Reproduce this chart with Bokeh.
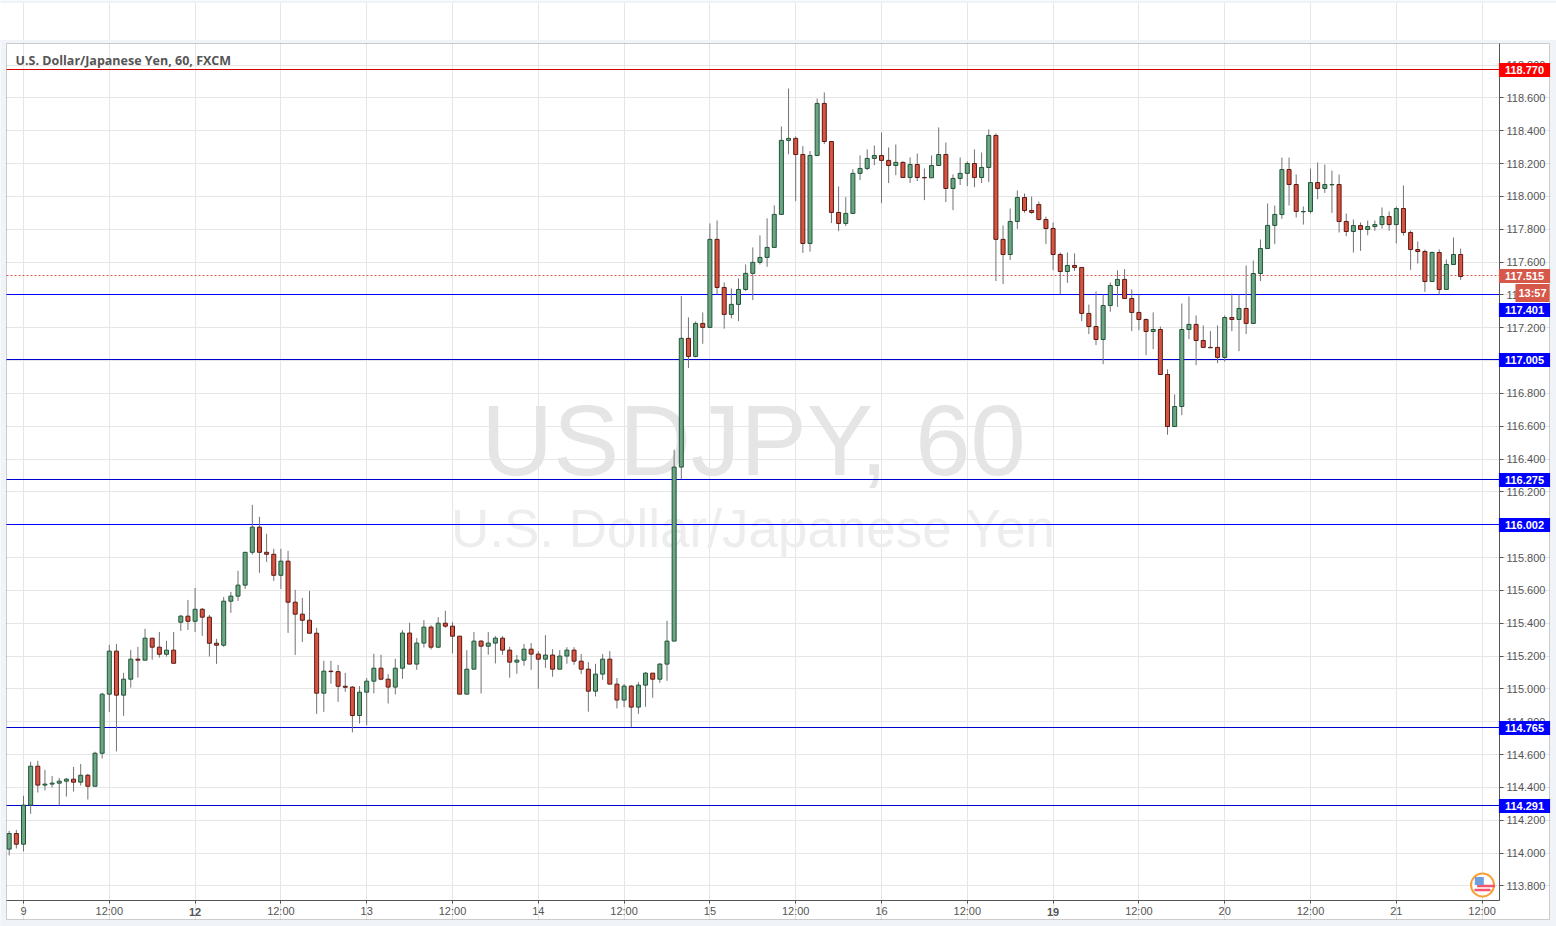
import math
from bokeh.plotting import figure
from bokeh.embed import file_html
from bokeh.resources import INLINE
from bokeh.models import Range1d, FixedTicker, NumeralTickFormatter, Label, BoxAnnotation

opens = [
114.024,114.119,114.054,114.292,114.529,114.414,114.420,114.426,114.438,114.450,
114.432,114.474,114.407,114.608,114.968,115.230,114.962,115.059,115.181,115.175,
115.309,115.254,115.211,115.236,115.406,115.443,115.412,115.485,115.437,115.278,
115.266,115.534,115.565,115.632,115.832,115.985,115.832,115.820,115.692,115.778,
115.528,115.455,115.418,115.339,114.974,115.108,115.105,115.016,115.011,114.838,
114.980,115.047,115.126,115.059,115.011,115.126,115.340,115.151,115.279,115.376,
115.254,115.400,115.382,115.321,114.968,115.120,115.291,115.260,115.279,115.309,
115.236,115.163,115.175,115.242,115.212,115.181,115.206,115.120,115.200,115.236,
115.169,115.120,114.986,115.090,115.181,115.029,114.932,115.017,114.889,115.023,
115.096,115.059,115.151,115.291,116.351,117.135,117.025,117.226,117.202,117.738,
117.445,117.281,117.342,117.433,117.531,117.598,117.628,117.689,117.890,118.341,
118.353,118.255,117.713,118.249,118.566,118.334,117.902,117.835,117.896,118.140,
118.170,118.231,118.249,118.219,118.188,118.207,118.115,118.194,118.115,118.113,
118.188,118.255,118.048,118.109,118.140,118.200,118.115,118.176,118.371,117.738,
117.646,117.847,117.993,117.914,117.950,117.859,117.804,117.646,117.542,117.579,
117.567,117.287,117.207,117.128,117.335,117.457,117.494,117.378,117.293,117.250,
117.177,117.189,116.915,116.598,116.720,117.189,117.220,117.122,117.080,117.080,
117.019,117.262,117.250,117.317,117.226,117.530,117.682,117.823,117.889,118.163,
118.072,117.906,117.908,118.084,118.048,118.070,118.072,117.847,117.786,117.822,
117.798,117.816,117.828,117.877,117.828,117.926,117.780,117.676,117.664,117.481,
117.658,117.433,117.585,117.646]

highs = [
114.135,114.141,114.349,114.556,114.562,114.507,114.470,114.458,114.458,114.525,
114.543,114.483,114.617,114.976,115.268,115.274,115.098,115.238,115.256,115.366,
115.309,115.347,115.293,115.347,115.451,115.542,115.615,115.493,115.451,115.305,
115.560,115.591,115.719,115.832,116.121,116.048,115.944,115.853,115.853,115.841,
115.603,115.554,115.597,115.372,115.171,115.171,115.146,115.098,115.017,115.017,
115.066,115.214,115.208,115.090,115.183,115.358,115.403,115.309,115.419,115.388,
115.437,115.476,115.407,115.321,115.236,115.346,115.297,115.346,115.321,115.321,
115.256,115.206,115.273,115.279,115.230,115.327,115.242,115.236,115.254,115.254,
115.212,115.163,115.153,115.212,115.230,115.066,115.029,115.023,115.041,115.102,
115.096,115.157,115.415,116.456,117.393,117.263,117.238,117.293,117.835,117.853,
117.476,117.439,117.500,117.585,117.689,117.762,117.866,117.945,118.426,118.657,
118.365,118.306,118.276,118.596,118.633,118.334,118.060,117.995,118.166,118.249,
118.286,118.310,118.389,118.298,118.316,118.213,118.237,118.261,118.170,118.249,
118.420,118.328,118.134,118.237,118.213,118.286,118.267,118.408,118.383,117.823,
117.926,118.036,118.017,117.999,117.969,117.877,117.841,117.658,117.658,117.652,
117.567,117.341,117.421,117.402,117.475,117.550,117.557,117.433,117.402,117.256,
117.293,117.207,116.946,116.793,117.347,117.390,117.274,117.214,117.179,117.214,
117.274,117.408,117.402,117.579,117.609,117.737,117.956,117.944,118.236,118.236,
118.133,117.938,118.169,118.206,118.194,118.157,118.133,117.895,117.859,117.841,
117.853,117.853,117.932,117.908,117.938,118.066,117.792,117.725,117.676,117.664,
117.676,117.615,117.749,117.682]

lows = [
113.985,114.028,114.010,114.239,114.369,114.381,114.399,114.290,114.344,114.375,
114.411,114.326,114.407,114.576,114.860,114.619,114.836,115.008,115.069,115.175,
115.177,115.191,115.197,115.156,115.353,115.359,115.347,115.323,115.197,115.152,
115.256,115.463,115.536,115.609,115.818,115.707,115.774,115.658,115.609,115.341,
115.207,115.286,115.339,114.848,114.860,115.031,114.921,114.982,114.735,114.789,
114.777,114.972,115.053,114.911,114.966,115.061,115.151,115.116,115.252,115.240,
115.248,115.372,115.216,114.968,114.968,115.120,114.972,115.208,115.155,115.208,
115.068,115.092,115.141,115.116,115.001,115.128,115.074,115.120,115.153,115.147,
115.090,114.861,114.954,115.055,115.029,114.881,114.889,114.767,114.848,114.891,
114.946,115.037,115.049,115.291,116.277,116.954,117.019,117.102,117.202,117.403,
117.194,117.257,117.240,117.423,117.368,117.585,117.571,117.689,117.890,118.257,
117.971,117.656,117.663,118.249,118.318,117.837,117.788,117.819,117.896,118.099,
118.160,118.190,117.959,118.081,118.129,118.115,118.081,118.093,117.977,118.113,
118.188,117.965,117.916,118.069,118.062,118.056,118.081,118.087,117.484,117.466,
117.612,117.802,117.900,117.894,117.853,117.709,117.550,117.402,117.473,117.546,
117.240,117.161,117.094,116.978,117.297,117.327,117.378,117.179,117.185,117.033,
117.069,116.915,116.548,116.598,116.667,117.130,116.972,117.080,117.078,116.984,
116.994,117.179,117.057,117.161,117.226,117.484,117.682,117.709,117.863,117.944,
117.871,117.828,117.895,117.983,118.021,117.899,117.780,117.757,117.658,117.668,
117.763,117.790,117.804,117.790,117.713,117.761,117.552,117.591,117.418,117.481,
117.402,117.433,117.585,117.491]

closes = [
114.119,114.054,114.292,114.529,114.414,114.420,114.426,114.438,114.450,114.432,
114.474,114.407,114.608,114.968,115.230,114.962,115.059,115.181,115.175,115.309,
115.254,115.211,115.236,115.156,115.443,115.412,115.485,115.437,115.278,115.266,
115.534,115.565,115.632,115.832,115.985,115.832,115.820,115.692,115.778,115.528,
115.455,115.418,115.339,114.974,115.108,115.105,115.016,115.010,114.838,114.980,
115.047,115.126,115.059,115.011,115.126,115.340,115.151,115.279,115.376,115.254,
115.400,115.382,115.321,114.968,115.120,115.291,115.260,115.279,115.309,115.236,
115.163,115.175,115.242,115.212,115.181,115.206,115.120,115.200,115.236,115.169,
115.120,114.986,115.090,115.181,115.029,114.932,115.017,114.889,115.023,115.096,
115.059,115.151,115.291,116.351,117.135,117.025,117.226,117.202,117.738,117.445,
117.281,117.342,117.433,117.531,117.598,117.628,117.689,117.890,118.341,118.353,
118.255,117.713,118.249,118.566,118.334,117.902,117.835,117.896,118.140,118.170,
118.231,118.249,118.219,118.188,118.207,118.115,118.194,118.115,118.113,118.188,
118.255,118.048,118.109,118.140,118.200,118.115,118.176,118.371,117.738,117.646,
117.847,117.993,117.914,117.902,117.859,117.804,117.646,117.542,117.579,117.567,
117.287,117.207,117.128,117.335,117.457,117.494,117.378,117.293,117.250,117.177,
117.189,116.915,116.598,116.720,117.189,117.220,117.122,117.080,117.078,117.019,
117.262,117.250,117.317,117.226,117.530,117.682,117.823,117.890,118.163,118.072,
117.908,117.908,118.084,118.048,118.072,118.072,117.847,117.786,117.822,117.798,
117.816,117.828,117.877,117.828,117.926,117.780,117.676,117.664,117.481,117.658,
117.433,117.585,117.646,117.512]

y_ticks = [113.8,114.0,114.2,114.4,114.6,114.8,115.0,115.2,115.4,115.6,115.8,116.0,116.2,
           116.4,116.6,116.8,117.0,117.2,117.4,117.6,117.8,118.0,118.2,118.4,118.6,118.8]
x_ticks = [0,12,24,36,48,60,72,84,96,108,120,132,144,156,168,180,192,204]
x_labels = ["9","12:00","12","12:00","13","12:00","14","12:00","15","12:00","16","12:00","19","12:00","20","12:00","21","12:00"]
bold_days = ["12","19"]
levels = [(118.770,"#d40000","#ff0000"),(117.401,"#0000ff","#0000ff"),(117.005,"#0000d0","#0000ff"),
          (116.275,"#0000d0","#0000ff"),(116.002,"#0000ff","#0000ff"),(114.765,"#0000d0","#0000ff"),
          (114.291,"#0000d0","#0000ff")]
last_price = 117.515
countdown = "13:57"
title_text = "U.S. Dollar/Japanese Yen, 60, FXCM"
mark_big = "USDJPY, 60"
mark_small = "U.S. Dollar/Japanese Yen"

PALE = "#f0f4f8"; FRAME = "#555555"; GRID = "#e6e6e6"; TXT = "#555555"
UP, UPL = "#6ba583", "#225437"
DN, DNL = "#d75442", "#5b1a13"
WICK = "#737375"; TAG = "#d6584a"
W, H = 1556, 926
BAR = 7.15; X0 = 23.0
FL, FR, FT, FB = 6, 1499, 43, 900
Y_TOP = 118.931
SC = 5.226 / 858                     # price per pixel

def cy(v):                            # canvas row of a price
    return FT + (Y_TOP - v) / SC

def cx(i):                            # canvas column of a bar index
    return X0 + i * BAR

def py(px):                           # price of a canvas row
    return Y_TOP - (px - FT) * SC

def ix(px):                           # bar index of a canvas column
    return (px - X0) / BAR

def row(v):                           # whole pixel row holding this price
    return math.floor(cy(v) + 0.4)

# the frame fills the page, so that tags and surround, which annotations clip to the frame, can show
p = figure(width=W, height=H, output_backend="svg", toolbar_location=None,
           x_range=Range1d(ix(0), ix(W)), y_range=Range1d(py(H), py(0)),
           y_axis_location="right", min_border_left=0, min_border_right=0,
           min_border_top=0, min_border_bottom=0,
           border_fill_color="white", background_fill_color="white", outline_line_color=None)

def box(l, r, t, b, **kw):
    p.add_layout(BoxAnnotation(left=l, right=r, top=t, bottom=b, left_units="canvas", right_units="canvas",
                               top_units="canvas", bottom_units="canvas", level="underlay", **kw))

box(-1, W, -1, 2.5, fill_color=PALE, fill_alpha=1, line_alpha=0)
box(-1, W, 39.5, 42.5, fill_color=PALE, fill_alpha=1, line_alpha=0)
box(-1, FL - 0.5, 39.5, H, fill_color=PALE, fill_alpha=1, line_alpha=0)
box(1549.5, W, 39.5, H, fill_color=PALE, fill_alpha=1, line_alpha=0)
box(-1, W, 919.5, H, fill_color=PALE, fill_alpha=1, line_alpha=0)
box(FL, 1549, FT, 919, fill_alpha=0, line_color=FRAME, line_width=1)

ya = p.yaxis[0]
ya.fixed_location = ix(FR)
ya.bounds = (py(FB), py(FT))
ya.ticker = FixedTicker(ticks=y_ticks)
ya.formatter = NumeralTickFormatter(format="0.000")
ya.major_tick_in = 0; ya.major_tick_out = 4; ya.minor_tick_out = 0; ya.minor_tick_in = 0
ya.axis_line_color = FRAME; ya.major_tick_line_color = FRAME
ya.major_label_text_color = TXT; ya.major_label_text_font = "Liberation Sans"
ya.major_label_text_font_size = "11px"; ya.major_label_standoff = 3

xa = p.xaxis[0]
xa.fixed_location = py(FB)
xa.bounds = (ix(FL), ix(FR))
xa.ticker = FixedTicker(ticks=x_ticks)
xa.major_label_overrides = {t: ("" if s in bold_days else s) for t, s in zip(x_ticks, x_labels)}
xa.major_tick_in = 0; xa.major_tick_out = 3; xa.minor_tick_out = 0; xa.minor_tick_in = 0
xa.axis_line_color = FRAME; xa.major_tick_line_color = FRAME
xa.major_label_text_color = TXT; xa.major_label_text_font = "Liberation Sans"
xa.major_label_text_font_size = "11px"; xa.major_label_standoff = 1

for t, s in zip(x_ticks, x_labels):
    if s in bold_days:
        p.add_layout(Label(x=cx(t), y=911, x_units="canvas", y_units="canvas", text=s, text_align="center",
                           text_baseline="middle", text_font="Liberation Sans", text_font_style="bold",
                           text_font_size="11px", text_color=TXT))

p.xgrid.grid_line_color = GRID; p.ygrid.grid_line_color = GRID
p.xgrid.ticker = xa.ticker; p.ygrid.ticker = ya.ticker
p.xgrid.bounds = (py(FB), py(FT)); p.ygrid.bounds = (ix(FL), ix(FR))

# watermarks
p.add_layout(Label(x=753, y=440, x_units="canvas", y_units="canvas", text=mark_big, text_align="center",
                   text_baseline="middle", text_font="Liberation Sans", text_font_size="99.3px",
                   text_color="#e5e5e5", level="underlay"))
p.add_layout(Label(x=753, y=528, x_units="canvas", y_units="canvas", text=mark_small, text_align="center",
                   text_baseline="middle", text_font="Liberation Sans", text_font_size="53px",
                   text_color="#ededed", level="underlay"))

# horizontal levels
for v, c, _ in levels:
    p.segment([ix(FL)], [py(row(v))], [ix(FR)], [py(row(v))], line_color=c, line_width=1)
p.segment([ix(FL)], [py(row(last_price))], [ix(FR)], [py(row(last_price))], line_color=TAG, line_width=1, line_dash="2 2")

# candles
n = len(opens)
xs = [i - 2 for i in range(n)]
fills = [UP if c >= o else DN for o, c in zip(opens, closes)]
edges = [UPL if c >= o else DNL for o, c in zip(opens, closes)]
p.segment(xs, highs, xs, lows, line_color=WICK, line_width=1)
p.vbar(x=xs, top=[max(o, c) for o, c in zip(opens, closes)], bottom=[min(o, c) for o, c in zip(opens, closes)],
       width=4.0 / BAR, fill_color=fills, line_color=edges, line_width=1)

# price tags
def tag(v, text, color, off=0, x=1524, pad=(6, 3)):
    p.add_layout(Label(x=x, y=row(v) + 0.5 + off, x_units="canvas", y_units="canvas", text=text,
                       text_align="center", text_baseline="middle", text_font="Liberation Sans",
                       text_font_style="bold", text_font_size="11px", text_color="white",
                       background_fill_color=color, background_fill_alpha=1, padding=pad))

tag(last_price, f"{last_price:.3f}", TAG)
tag(last_price, countdown, TAG, off=17, x=1532, pad=(3, 3))
for v, _, c in levels:
    tag(v, f"{v:.3f}", c, off=15 if v == 117.401 else 0)

# title
p.add_layout(Label(x=15, y=60, x_units="canvas", y_units="canvas", text=title_text, text_baseline="middle",
                   text_font="Open Sans", text_font_style="bold", text_font_size="12.5px", text_color=TXT))

# currency flag icon
fx = ix(1482)
p.scatter([fx], [py(884.5)], size=23, fill_color="white", line_color="#f7a035", line_width=2)
p.rect([fx], [py(889.5)], width=16, height=2.5, width_units="screen", height_units="screen", fill_color="#f4566b", line_alpha=0)
p.rect([fx + 0.5], [py(885.5)], width=18, height=2.5, width_units="screen", height_units="screen", fill_color="#f4566b", line_alpha=0)
p.rect([fx - 0.45], [py(880.5)], width=9, height=8, width_units="screen", height_units="screen", fill_color="#6f9fdc", line_alpha=0)

open("out.html", "w").write(file_html(p, INLINE))
